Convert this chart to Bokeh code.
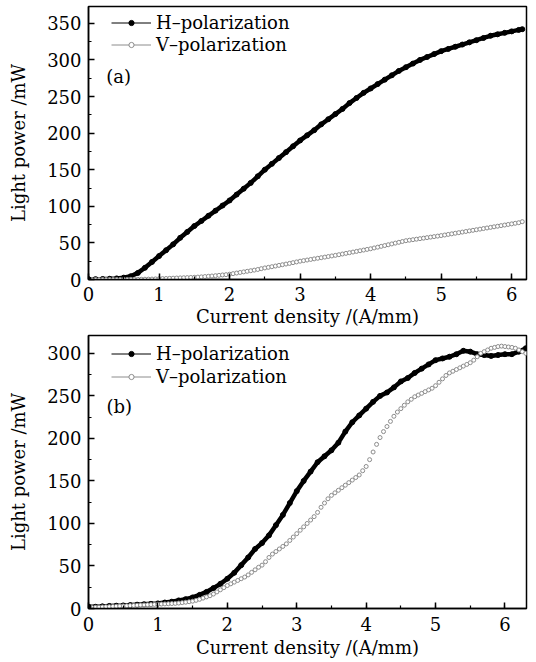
from bokeh.plotting import figure
from bokeh.layouts import column
from bokeh.models import SingleIntervalTicker, Legend, LegendItem, Label, Range1d
from bokeh.embed import file_html
from bokeh.resources import INLINE

FONT = "DejaVu Serif"

# ---------------- data: panel (a) ----------------
h_top_x = [0.0, 0.1, 0.2, 0.3, 0.4, 0.5, 0.6, 0.7, 0.8, 0.9,
           1.0, 1.1, 1.2, 1.3, 1.4, 1.5, 1.6, 1.7, 1.8, 1.9,
           2.0, 2.1, 2.2, 2.3, 2.4, 2.5, 2.6, 2.7, 2.8, 2.9,
           3.0, 3.1, 3.2, 3.3, 3.4, 3.5, 3.6, 3.7, 3.8, 3.9,
           4.0, 4.1, 4.2, 4.3, 4.4, 4.5, 4.6, 4.7, 4.8, 4.9,
           5.0, 5.1, 5.2, 5.3, 5.4, 5.5, 5.6, 5.7, 5.8, 5.9,
           6.0, 6.1, 6.15]
h_top_y = [0.3, 0.5, 0.7, 1.0, 1.5, 2.5, 4.5, 9, 16, 24,
           32, 40, 48, 57, 65, 73, 80, 87, 94, 101,
           108, 116, 124, 132, 141, 150, 158, 166, 174, 182,
           190, 197, 204, 212, 219, 226, 233, 241, 248, 255,
           261, 267, 273, 279, 285, 290, 295, 300, 304, 308,
           312, 315, 318, 321, 324, 327, 330, 333, 335, 337,
           339, 341, 342]

v_top_x = [0.00, 0.05, 0.10, 0.15, 0.20, 0.25, 0.30, 0.35, 0.40, 0.45,
           0.50, 0.55, 0.60, 0.65, 0.70, 0.75, 0.80, 0.85, 0.90, 0.95,
           1.00, 1.05, 1.10, 1.15, 1.20, 1.25, 1.30, 1.35, 1.40, 1.45,
           1.50, 1.55, 1.60, 1.65, 1.70, 1.75, 1.80, 1.85, 1.90, 1.95,
           2.00, 2.05, 2.10, 2.15, 2.20, 2.25, 2.30, 2.35, 2.40, 2.45,
           2.50, 2.55, 2.60, 2.65, 2.70, 2.75, 2.80, 2.85, 2.90, 2.95,
           3.00, 3.05, 3.10, 3.15, 3.20, 3.25, 3.30, 3.35, 3.40, 3.45,
           3.50, 3.55, 3.60, 3.65, 3.70, 3.75, 3.80, 3.85, 3.90, 3.95,
           4.00, 4.05, 4.10, 4.15, 4.20, 4.25, 4.30, 4.35, 4.40, 4.45,
           4.50, 4.55, 4.60, 4.65, 4.70, 4.75, 4.80, 4.85, 4.90, 4.95,
           5.00, 5.05, 5.10, 5.15, 5.20, 5.25, 5.30, 5.35, 5.40, 5.45,
           5.50, 5.55, 5.60, 5.65, 5.70, 5.75, 5.80, 5.85, 5.90, 5.95,
           6.00, 6.05, 6.10, 6.15]
v_top_y = [0, 0, 0, 0, 0, 0, 0, 0, 0, 0,
           0.1, 0.1, 0.2, 0.2, 0.3, 0.3, 0.4, 0.5, 0.6, 0.8,
           1.0, 1.2, 1.4, 1.6, 1.8, 2.0, 2.2, 2.4, 2.6, 2.8,
           3.0, 3.3, 3.6, 4.0, 4.4, 4.8, 5.2, 5.7, 6.2, 6.6,
           7.2, 8.0, 8.8, 9.6, 10.4, 11.2, 12.0, 12.8, 13.7, 14.8,
           15.8, 16.6, 17.5, 18.4, 19.3, 20.2, 21.1, 22.0, 23.0, 24.0,
           25.0, 25.8, 26.6, 27.4, 28.2, 29.0, 29.8, 30.6, 31.4, 32.2,
           33.0, 33.9, 34.8, 35.7, 36.6, 37.5, 38.4, 39.3, 40.2, 41.1,
           42.0, 43.1, 44.2, 45.3, 46.4, 47.5, 48.6, 49.7, 50.8, 51.9,
           53.0, 53.7, 54.4, 55.1, 55.8, 56.5, 57.2, 57.9, 58.6, 59.3,
           60.0, 60.8, 61.6, 62.4, 63.2, 64.0, 64.8, 65.6, 66.4, 67.2,
           68.0, 68.8, 69.6, 70.4, 71.2, 72.0, 72.8, 73.6, 74.4, 75.2,
           76.0, 76.8, 77.6, 79.0]

# ---------------- data: panel (b) ----------------
h_bot_x = [0.0, 0.1, 0.2, 0.3, 0.4, 0.5, 0.6, 0.7, 0.8, 0.9,
           1.0, 1.1, 1.2, 1.3, 1.4, 1.5, 1.6, 1.7, 1.8, 1.9,
           2.0, 2.1, 2.2, 2.3, 2.4, 2.5, 2.6, 2.7, 2.8, 2.9,
           3.0, 3.1, 3.2, 3.3, 3.4, 3.5, 3.6, 3.7, 3.8, 3.9,
           4.0, 4.1, 4.2, 4.3, 4.4, 4.5, 4.6, 4.7, 4.8, 4.9,
           5.0, 5.1, 5.2, 5.3, 5.4, 5.5, 5.6, 5.7, 5.8, 5.9,
           6.0, 6.1, 6.2, 6.3]
h_bot_y = [2, 2, 2.5, 3, 3.3, 3.6, 4, 4.5, 5, 5.5,
           6, 7, 8, 9.5, 11, 13, 16, 19.5, 24, 29,
           35, 42, 51, 60, 70, 77, 86, 98, 110, 124,
           138, 150, 161, 172, 179, 186, 195, 208, 219, 227,
           235, 243, 250, 254, 260, 267, 271, 277, 282, 287,
           292, 294, 296, 299, 303, 302, 299, 298, 297, 298,
           299, 299, 302, 306]

v_bot_x = [0.00, 0.05, 0.10, 0.15, 0.20, 0.25, 0.30, 0.35, 0.40, 0.45,
           0.50, 0.55, 0.60, 0.65, 0.70, 0.75, 0.80, 0.85, 0.90, 0.95,
           1.00, 1.05, 1.10, 1.15, 1.20, 1.25, 1.30, 1.35, 1.40, 1.45,
           1.50, 1.55, 1.60, 1.65, 1.70, 1.75, 1.80, 1.85, 1.90, 1.95,
           2.00, 2.05, 2.10, 2.15, 2.20, 2.25, 2.30, 2.35, 2.40, 2.45,
           2.50, 2.55, 2.60, 2.65, 2.70, 2.75, 2.80, 2.85, 2.90, 2.95,
           3.00, 3.05, 3.10, 3.15, 3.20, 3.25, 3.30, 3.35, 3.40, 3.45,
           3.50, 3.55, 3.60, 3.65, 3.70, 3.75, 3.80, 3.85, 3.90, 3.95,
           4.00, 4.05, 4.10, 4.15, 4.20, 4.25, 4.30, 4.35, 4.40, 4.45,
           4.50, 4.55, 4.60, 4.65, 4.70, 4.75, 4.80, 4.85, 4.90, 4.95,
           5.00, 5.05, 5.10, 5.15, 5.20, 5.25, 5.30, 5.35, 5.40, 5.45,
           5.50, 5.55, 5.60, 5.65, 5.70, 5.75, 5.80, 5.85, 5.90, 5.95,
           6.00, 6.05, 6.10, 6.15, 6.20, 6.25, 6.30]
v_bot_y = [1.0, 1.2, 1.4, 1.6, 1.8, 2.0, 2.2, 2.4, 2.6, 2.8,
           3.0, 3.2, 3.4, 3.6, 3.8, 4.0, 4.2, 4.4, 4.6, 4.8,
           5.0, 5.2, 5.4, 5.6, 5.8, 6.0, 6.4, 6.9, 7.4, 8.0,
           8.6, 9.6, 10.8, 12.2, 13.6, 15.0, 17.0, 19.5, 22.0, 24.5,
           27.0, 29.0, 31.0, 33.0, 35.0, 37.0, 39.5, 42.5, 45.5, 48.5,
           51.0, 55.0, 60.0, 64.0, 67.0, 70.0, 73.0, 76.0, 80.0, 84.0,
           88.0, 92.0, 96.0, 100.0, 104.0, 108.0, 113.0, 119.0, 124.0, 129.0,
           133.0, 136.0, 139.0, 142.0, 145.0, 148.0, 151.0, 154.0, 157.0, 162.0,
           167.0, 175.0, 184.0, 193.0, 201.0, 208.0, 214.0, 220.0, 226.0, 231.0,
           235.0, 239.0, 243.0, 246.0, 249.0, 251.0, 253.0, 255.0, 257.0, 259.0,
           262.0, 266.0, 270.0, 274.0, 277.0, 279.0, 281.0, 283.0, 285.0, 287.0,
           289.0, 292.0, 296.0, 300.0, 302.0, 304.0, 306.0, 307.0, 308.0, 308.5,
           308.0, 307.5, 307.0, 306.0, 304.0, 302.0, 300.0]

H_LABEL = "H\u2013polarization"
V_LABEL = "V\u2013polarization"
X_LABEL = "Current density /(A/mm)"
Y_LABEL = "Light power /mW"
V_COLOR = "#8c8c8c"


def make_panel(hx, hy, vx, vy, xmax, ymax, height, btop, bbottom, tag, tag_x, tag_y,
               legend_top, legend_spacing, tick_standoff, label_standoff):
    frame_h = height - btop - bbottom
    p = figure(width=536, height=height, output_backend="svg", toolbar_location=None,
               x_range=Range1d(0, xmax), y_range=Range1d(0, ymax),
               min_border_left=88, min_border_right=10,
               min_border_top=btop, min_border_bottom=bbottom)
    p.grid.visible = False
    p.outline_line_color = "black"
    p.outline_line_width = 1.5
    p.outline_line_alpha = 1.0
    p.background_fill_color = "white"
    p.border_fill_color = "white"

    p.xaxis.ticker = SingleIntervalTicker(interval=1, num_minor_ticks=2)
    p.yaxis.ticker = SingleIntervalTicker(interval=50, num_minor_ticks=2)
    p.xaxis.axis_label = X_LABEL
    p.yaxis.axis_label = Y_LABEL
    for ax in (p.xaxis[0], p.yaxis[0]):
        ax.major_tick_in = 6
        ax.major_tick_out = 0
        ax.minor_tick_in = 3
        ax.minor_tick_out = 0
        ax.axis_line_width = 1.5
        ax.axis_line_color = "black"
        ax.major_tick_line_width = 1.5
        ax.minor_tick_line_width = 1.2
        ax.major_tick_line_color = "black"
        ax.minor_tick_line_color = "black"
        ax.major_label_text_font = FONT
        ax.major_label_text_font_size = "18px"
        ax.major_label_text_color = "black"
        ax.axis_label_text_font = FONT
        ax.axis_label_text_font_size = "18px"
        ax.axis_label_text_font_style = "normal"
        ax.axis_label_text_color = "black"
    p.xaxis.major_label_standoff = tick_standoff
    p.xaxis.axis_label_standoff = label_standoff
    p.yaxis.major_label_standoff = 7
    p.yaxis.axis_label_standoff = 15

    # data renderers
    p.line(hx, hy, line_color="black", line_width=4.5)
    p.scatter(hx, hy, marker="circle", size=5, fill_color="black", line_color="black")
    vs = p.scatter(vx, vy, marker="circle", size=4, fill_color="white",
                   line_color=V_COLOR, line_width=1)

    # legend proxies: one-point renderers (a single-point line draws nothing on the plot)
    hl = p.line(x=hx[:1], y=hy[:1], line_color="black", line_width=1)
    hs = p.scatter(x=hx[:1], y=hy[:1], marker="circle", size=5,
                   fill_color="black", line_color="black")
    vl = p.line(x=vx[:1], y=vy[:1], line_color=V_COLOR, line_width=1)
    legend_h = 2 * 21 + legend_spacing
    legend = Legend(items=[LegendItem(label=H_LABEL, renderers=[hl, hs]),
                           LegendItem(label=V_LABEL, renderers=[vl, vs])],
                    location=(23, frame_h - legend_top - legend_h),
                    margin=0, padding=0, spacing=legend_spacing,
                    glyph_width=40, glyph_height=13, label_standoff=5,
                    label_height=20,
                    label_text_font=FONT, label_text_font_size="18px",
                    label_text_color="black",
                    border_line_alpha=0, background_fill_alpha=0)
    p.add_layout(legend)

    p.add_layout(Label(x=tag_x, y=tag_y, text=tag, text_font=FONT,
                       text_font_size="18px", text_color="black",
                       text_baseline="middle", text_align="left"))
    return p


p1 = make_panel(h_top_x, h_top_y, v_top_x, v_top_y, 6.21, 373, 331, 6, 52,
                "(a)", 0.25, 277, 6, 1, 7, 2)
p2 = make_panel(h_bot_x, h_bot_y, v_bot_x, v_bot_y, 6.31, 321, 330, 4, 53,
                "(b)", 0.26, 238, 8, 2, 8, 3)

layout = column(p1, p2, spacing=0)
open("out.html", "w").write(file_html(layout, INLINE))
